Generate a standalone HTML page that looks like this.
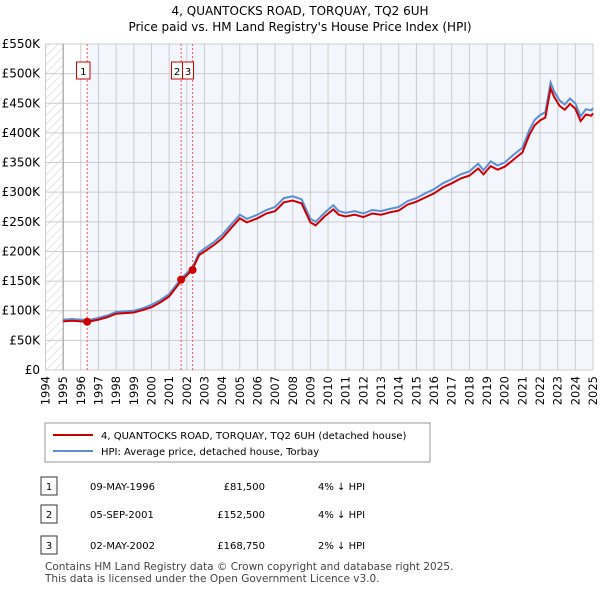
<!DOCTYPE html>
<html><head><meta charset="utf-8"><style>
body{margin:0;background:#fff;font-family:"Liberation Sans",sans-serif;}
svg text{font-family:"DejaVu Sans","Liberation Sans",sans-serif;}
</style></head><body>
<svg width="600" height="590" xmlns="http://www.w3.org/2000/svg">
<defs><pattern id="hatch" width="6" height="6" patternUnits="userSpaceOnUse" patternTransform="rotate(45)"><line x1="0" y1="0" x2="0" y2="6" stroke="#ccc" stroke-width="1"/></pattern></defs>
<text x="300" y="15" text-anchor="middle" font-size="12">4, QUANTOCKS ROAD, TORQUAY, TQ2 6UH</text>
<text x="300" y="31" text-anchor="middle" font-size="12">Price paid vs. HM Land Registry's House Price Index (HPI)</text>
<g id="plot"></g>
<g>
<rect x="45" y="423" width="385" height="39" fill="#fff" stroke="#999"/>
<line x1="53" y1="435" x2="93" y2="435" stroke="#cc0000" stroke-width="2"/>
<text x="101" y="439" font-size="10">4, QUANTOCKS ROAD, TORQUAY, TQ2 6UH (detached house)</text>
<line x1="53" y1="451" x2="93" y2="451" stroke="#5b8fd4" stroke-width="2"/>
<text x="101" y="455" font-size="10">HPI: Average price, detached house, Torbay</text>
</g>
<g font-size="10">
<rect x="41" y="477" width="16" height="18" fill="#fff" stroke="#333"/><text x="49" y="490" text-anchor="middle">1</text>
<text x="90" y="490">09-MAY-1996</text><text x="265" y="490" text-anchor="end">£81,500</text><text x="318" y="490">4% ↓ HPI</text>
<rect x="41" y="505" width="16" height="18" fill="#fff" stroke="#333"/><text x="49" y="518" text-anchor="middle">2</text>
<text x="90" y="518">05-SEP-2001</text><text x="265" y="518" text-anchor="end">£152,500</text><text x="318" y="518">4% ↓ HPI</text>
<rect x="41" y="536" width="16" height="18" fill="#fff" stroke="#333"/><text x="49" y="549" text-anchor="middle">3</text>
<text x="90" y="549">02-MAY-2002</text><text x="265" y="549" text-anchor="end">£168,750</text><text x="318" y="549">2% ↓ HPI</text>
</g>
<text x="45" y="570" font-size="10.5" fill="#444">Contains HM Land Registry data © Crown copyright and database right 2025.</text>
<text x="45" y="582" font-size="10.5" fill="#444">This data is licensed under the Open Government Licence v3.0.</text>
</svg>
<script>
const hpiYears=[1995,1995.5,1996,1996.4,1997,1997.5,1998,1999,1999.5,2000,2000.5,2001,2001.7,2002.3,2002.7,2003,2003.5,2004,2004.5,2005,2005.4,2006,2006.5,2007,2007.5,2008,2008.5,2009,2009.3,2009.8,2010.3,2010.6,2011,2011.5,2012,2012.5,2013,2013.5,2014,2014.5,2015,2015.5,2016,2016.5,2017,2017.5,2018,2018.5,2018.8,2019.2,2019.6,2020,2020.3,2020.7,2021,2021.4,2021.7,2022,2022.3,2022.6,2022.8,2023.1,2023.4,2023.7,2024,2024.3,2024.6,2024.9,2025];
const hpiValues=[85,86,85,84,88,92,98,100,104,110,118,128,155,172,198,205,215,228,245,262,255,262,270,275,290,293,288,255,250,265,278,268,265,268,264,270,268,272,275,285,290,298,305,315,322,330,335,348,337,352,345,350,358,368,375,405,422,430,435,485,470,455,448,458,450,428,440,438,442];
const priceValues=[82,83,82,81.5,85,89,95,97,101,106,114,124,151,168.75,194,200,210,222,239,256,249,256,264,268,283,286,281,249,244,259,271,262,259,262,258,264,262,266,269,279,284,291,298,308,315,323,328,340,330,344,338,343,350,360,367,397,413,421,426,475,461,446,439,449,441,420,431,429,433];
const saleYears=[1996.36,2001.68,2002.33];
const saleValues=[81.5,152.5,168.75];
const saleLabels=["1","2","3"];
const yTicks=[0,50,100,150,200,250,300,350,400,450,500,550];
const xTicks=[1994,1995,1996,1997,1998,1999,2000,2001,2002,2003,2004,2005,2006,2007,2008,2009,2010,2011,2012,2013,2014,2015,2016,2017,2018,2019,2020,2021,2022,2023,2024,2025];
const NS="http://www.w3.org/2000/svg";
const x0=45.5,x1=593,y0=370,yTop=44;
const X=v=>x0+(v-1994)*(x1-x0)/31;
const Y=v=>y0-v*(y0-yTop)/550;
const g=document.getElementById('plot');
function mk(t,a){const e=document.createElementNS(NS,t);for(const k in a)e.setAttribute(k,a[k]);g.appendChild(e);return e;}
let e;
e=mk('rect',{x:X(1994),y:yTop,width:X(1995)-X(1994),height:y0-yTop,fill:'url(#hatch)'});


e=mk('rect',{x:X(saleYears[0]),y:yTop,width:x1-X(saleYears[0]),height:y0-yTop,fill:'#f3f7fd'});


yTicks.forEach(v=>{
 e=mk('line',{x1:x0,x2:x1,y1:Y(v),y2:Y(v),stroke:'#ccc'});
 
 
 e=mk('text',{x:40,y:Y(v)+4,'text-anchor':'end','font-size':'12'});e.textContent=v===0?'£0':'£'+v+'K';
 
 
});
xTicks.forEach(v=>{
 e=mk('line',{x1:X(v),x2:X(v),y1:yTop,y2:y0,stroke:'#ccc'});
 
 
 e=mk('text',{x:X(v)+4,y:y0+6,'text-anchor':'end','font-size':'11.5',transform:`rotate(-90 ${X(v)+4} ${y0+6})`});e.textContent=v;
 
 
});
e=mk('line',{x1:X(1995),x2:X(1995),y1:yTop,y2:y0,stroke:'#999'});


saleYears.forEach((s,i)=>{
 e=mk('line',{x1:X(s),x2:X(s),y1:yTop,y2:y0,stroke:'#e55','stroke-dasharray':'2,2'});
 
 
});
const lp=(vals)=>hpiYears.map((t,i)=>X(t).toFixed(1)+','+Y(vals[i]).toFixed(1)).join(' ');
e=mk('polyline',{points:lp(hpiValues),fill:'none',stroke:'#5b8fd4','stroke-width':2});


e=mk('polyline',{points:lp(priceValues),fill:'none',stroke:'#cc0000','stroke-width':2});


const boxX=[76.5,171.5,182.5];
saleYears.forEach((s,i)=>{
 e=mk('circle',{cx:X(s),cy:Y(saleValues[i]),r:4,fill:'#cc0000'});
 
 
 e=mk('rect',{x:boxX[i],y:62,width:i===0?13.5:11,height:17,fill:'#fff',stroke:'#cc0000'});
 
 
 e=mk('text',{x:boxX[i]+(i===0?6.75:5.5),y:75,'text-anchor':'middle','font-size':'10'});e.textContent=saleLabels[i];
 
 
});
</script>
</body></html>
